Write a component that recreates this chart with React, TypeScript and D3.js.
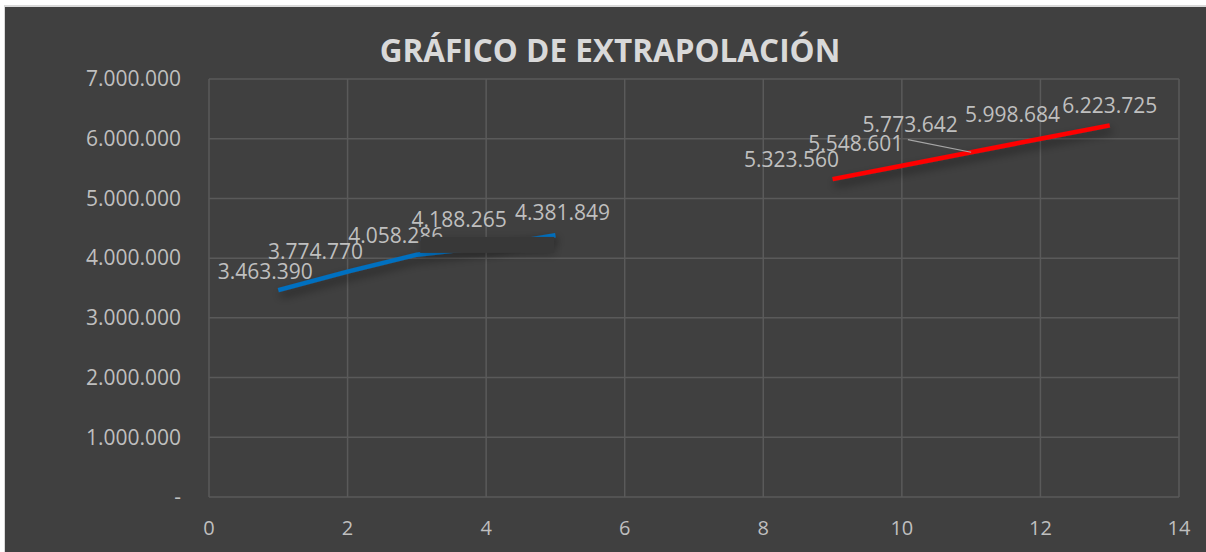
import React from "react";
import * as d3 from "d3";

const xTicks = [0, 2, 4, 6, 8, 10, 12, 14];
const yTicks = [0, 1000000, 2000000, 3000000, 4000000, 5000000, 6000000, 7000000];
const blueX = [1, 2, 3, 4, 5];
const blueY = [3463390, 3774770, 4058286, 4188265, 4381849];
const redX = [9, 10, 11, 12, 13];
const redY = [5323560, 5548601, 5773642, 5998684, 6223725];
const title = "GRÁFICO DE EXTRAPOLACIÓN";

// label offsets (px) relative to their point: [dx, dy]
const blueLabelOffsets: [number, number][] = [[-13, -19], [-32, -20], [-21, -19.5], [-27, -27], [7, -23]];
const redLabelOffsets: [number, number][] = [[-41, -19], [-46, -22], [-61, -28], [-28, -24], [0, -20]];

const W = 1206;
const H = 552;
const left = 209;
const right = 1179;
const top = 79;
const bottom = 497;

const fmt = (v: number) => (v === 0 ? "-" : d3.format(",.0f")(v).replace(/,/g, "."));

export default function App() {
  const x = d3.scaleLinear().domain([0, 14]).range([left, right]);
  const y = d3.scaleLinear().domain([0, 7000000]).range([bottom, top]);
  const line = d3.line<[number, number]>().x((d) => x(d[0])).y((d) => y(d[1]));
  const blue = blueX.map((v, i) => [v, blueY[i]] as [number, number]);
  const red = redX.map((v, i) => [v, redY[i]] as [number, number]);
  const font = "'Open Sans', sans-serif";
  const txt = "#bfbfbf";
  const grid = "#5a5a5a";

  const p4: [number, number] = [x(blueX[3]), y(blueY[3])];
  const pLead: [number, number] = [x(redX[2]), y(redY[2])];
  const leadStart: [number, number] = [x(redX[1]) + 6, y(redY[1]) - 26];

  return (
    <div style={{ position: "absolute", left: 0, top: 0 }}>
      <svg width={W} height={H} style={{ display: "block" }}>
        <defs>
          <filter id="sh" x="-20%" y="-100%" width="140%" height="400%">
            <feGaussianBlur in="SourceAlpha" stdDeviation="5" />
            <feOffset dx="2" dy="5" result="b" />
            <feComponentTransfer>
              <feFuncA type="linear" slope="0.5" />
            </feComponentTransfer>
            <feMerge>
              <feMergeNode />
              <feMergeNode in="SourceGraphic" />
            </feMerge>
          </filter>
          <filter id="sh2" x="-20%" y="-100%" width="140%" height="400%">
            <feGaussianBlur in="SourceAlpha" stdDeviation="4" />
            <feOffset dx="1" dy="2" />
            <feComponentTransfer>
              <feFuncA type="linear" slope="0.2" />
            </feComponentTransfer>
            <feMerge>
              <feMergeNode />
              <feMergeNode in="SourceGraphic" />
            </feMerge>
          </filter>
        </defs>
        <rect x={0} y={0} width={W} height={H} fill="#ffffff" />
        <rect x={4} y={5} width={W - 4} height={H - 5} fill="#d9d9d9" />
        <rect x={5} y={7} width={W - 5} height={H - 7} fill="#404040" />
        <text x={610} y={62} textAnchor="middle" fill="#d9d9d9" fontFamily={font} fontWeight={700} fontSize={31.5}>
          {title}
        </text>
        {yTicks.map((t) => (
          <g key={"y" + t}>
            <line x1={left} x2={right} y1={y(t)} y2={y(t)} stroke={grid} strokeWidth={1.5} />
            <text x={181} y={y(t)} dy="0.35em" textAnchor="end" fill={txt} fontFamily={font} fontSize={21}>
              {fmt(t)}
            </text>
          </g>
        ))}
        {xTicks.map((t) => (
          <g key={"x" + t}>
            <line x1={x(t)} x2={x(t)} y1={top} y2={bottom} stroke={grid} strokeWidth={1.5} />
            <text x={x(t)} y={528} dy="0.35em" textAnchor="middle" fill={txt} fontFamily={font} fontSize={20}>
              {t}
            </text>
          </g>
        ))}
        <path d={line(blue) || ""} fill="none" stroke="#0070c0" strokeWidth={4.5} filter="url(#sh)" />
        <path d={line(red) || ""} fill="none" stroke="#ff0000" strokeWidth={4.5} filter="url(#sh)" />
        <line x1={leadStart[0]} y1={leadStart[1]} x2={pLead[0]} y2={pLead[1]} stroke="#a6a6a6" strokeWidth={1.2} />
        {blue.map((d, i) => (
          <text key={"bl" + i} x={x(d[0]) + blueLabelOffsets[i][0]} y={y(d[1]) + blueLabelOffsets[i][1]} dy="0.35em"
            textAnchor="middle" fill={txt} fontFamily={font} fontSize={21}>
            {fmt(d[1])}
          </text>
        ))}
        <rect x={p4[0] - 66} y={p4[1] - 10} width={134} height={16} fill="#393939" filter="url(#sh2)" />
        {red.map((d, i) => (
          <text key={"rl" + i} x={x(d[0]) + redLabelOffsets[i][0]} y={y(d[1]) + redLabelOffsets[i][1]} dy="0.35em"
            textAnchor="middle" fill={txt} fontFamily={font} fontSize={21}>
            {fmt(d[1])}
          </text>
        ))}
      </svg>
    </div>
  );
}
